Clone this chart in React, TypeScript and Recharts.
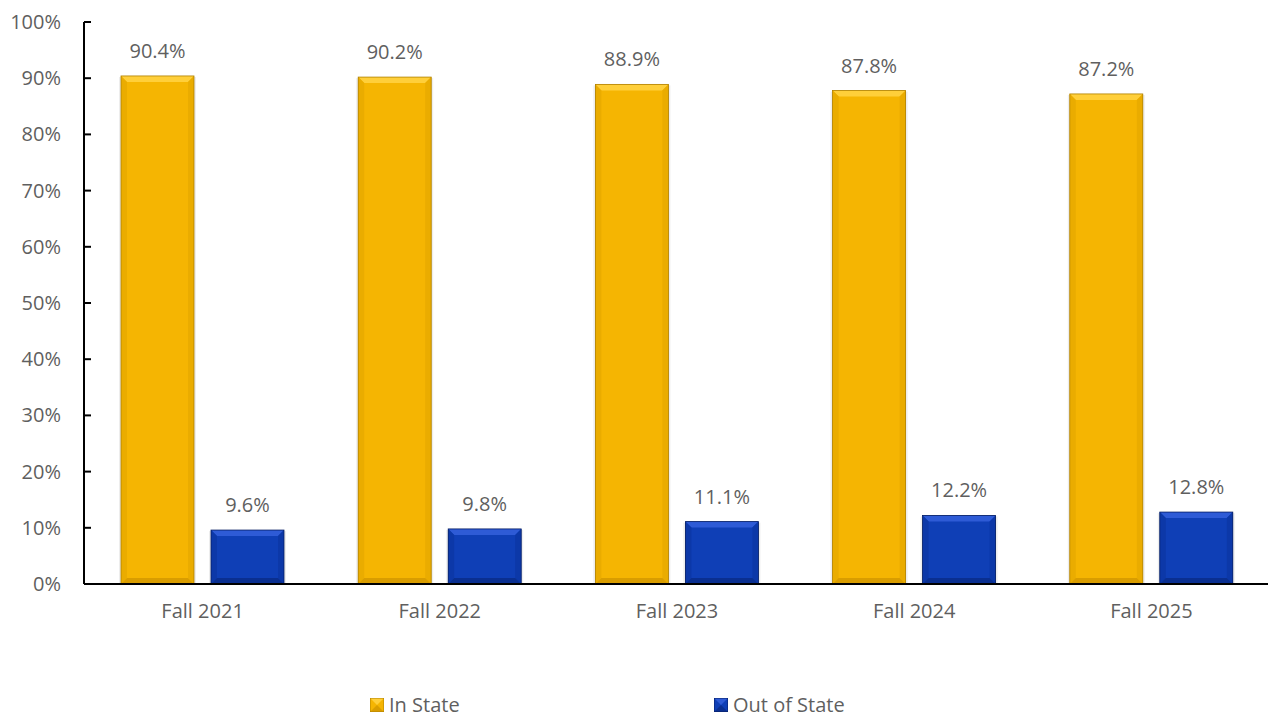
import { BarChart, Bar, XAxis, YAxis, LabelList } from "recharts";

const categories = ["Fall 2021", "Fall 2022", "Fall 2023", "Fall 2024", "Fall 2025"];
const inState = [90.4, 90.2, 88.9, 87.8, 87.2];
const outOfState = [9.6, 9.8, 11.1, 12.2, 12.8];
const yTicks = [0, 10, 20, 30, 40, 50, 60, 70, 80, 90, 100];

const seriesNames = ["In State", "Out of State"];

const palette = {
  gold: { base: "#F5B502", light: "#FFCF3A", side: "#EAAC00", dark: "#D99D00", edge: "#B08000" },
  blue: { base: "#0F3FB6", light: "#2E5BD6", side: "#0C38A8", dark: "#0A2F90", edge: "#061E63" },
};

const data = categories.map((name, i) => ({
  name,
  inState: inState[i],
  outOfState: outOfState[i],
}));

const FONT = "'Open Sans', 'Noto Sans', sans-serif";
const TEXT = "#5f5f5f";

function BevelBar(props: any) {
  const { x, y, width, height, tone } = props;
  const c = palette[tone as "gold" | "blue"];
  if (!height || height <= 0) return null;
  const b = Math.min(6, height / 3);
  return (
    <g>
      <rect x={x - 2} y={y + 1} width={width + 4} height={height} fill="#000" opacity={0.07} />
      <rect x={x} y={y} width={width} height={height} fill={c.base} />
      <polygon points={`${x},${y} ${x + width},${y} ${x + width - b},${y + b} ${x + b},${y + b}`} fill={c.light} />
      <polygon points={`${x},${y} ${x + b},${y + b} ${x + b},${y + height - b} ${x},${y + height}`} fill={c.side} />
      <polygon points={`${x + width},${y} ${x + width - b},${y + b} ${x + width - b},${y + height - b} ${x + width},${y + height}`} fill={c.side} />
      <polygon points={`${x},${y + height} ${x + b},${y + height - b} ${x + width - b},${y + height - b} ${x + width},${y + height}`} fill={c.dark} />
      <rect x={x} y={y} width={width} height={height} fill="none" stroke={c.edge} strokeWidth={0.8} />
    </g>
  );
}

function YTick(props: any) {
  const { x, y, payload } = props;
  return (
    <g>
      <line x1={x + 23} x2={x + 30} y1={y} y2={y} stroke="#000" strokeWidth={2} />
      <text x={x} y={y} dy={7} textAnchor="end" fill={TEXT} fontSize={20} fontFamily={FONT}>
        {payload.value}%
      </text>
    </g>
  );
}

function LegendIcon({ tone }: { tone: "gold" | "blue" }) {
  const c = palette[tone];
  return (
    <svg width={14} height={14} style={{ marginRight: 5 }}>
      <rect x={0} y={0} width={14} height={14} fill={c.base} />
      <polygon points="0,0 14,0 7,7" fill={c.light} />
      <polygon points="0,14 14,14 7,7" fill={c.dark} />
      <rect x={0} y={0} width={14} height={14} fill="none" stroke={c.edge} strokeWidth={1} />
    </svg>
  );
}

const legendStyle = {
  position: "absolute" as const,
  top: 693,
  display: "flex",
  alignItems: "center",
  fontFamily: FONT,
  fontSize: 20,
  lineHeight: "24px",
  color: TEXT,
};

export default function App() {
  return (
    <div style={{ position: "absolute", left: 0, top: 0, width: 1268, height: 717, overflow: "hidden", background: "#fff" }}>
      <BarChart
        width={1270}
        height={717}
        data={data}
        margin={{ top: 22, right: 0, bottom: 73, left: 0 }}
        barCategoryGap={37}
        barGap={17}
      >
        <XAxis
          dataKey="name"
          height={60}
          axisLine={{ stroke: "#000", strokeWidth: 2 }}
          tickLine={false}
          tickMargin={14}
          tick={{ fill: TEXT, fontSize: 20, fontFamily: FONT }}
        />
        <YAxis
          width={84}
          domain={[0, 100]}
          ticks={yTicks}
          interval={0}
          axisLine={{ stroke: "#000", strokeWidth: 2 }}
          tickLine={false}
          tickSize={0}
          tickMargin={23}
          tick={<YTick />}
        />
        <Bar dataKey="inState" name={seriesNames[0]} isAnimationActive={false} shape={(p: any) => <BevelBar {...p} tone="gold" />}>
          <LabelList
            dataKey="inState"
            position="top"
            offset={18}
            formatter={(v: any) => `${Number(v).toFixed(1)}%`}
            style={{ fill: TEXT, fontSize: 20, fontFamily: FONT }}
          />
        </Bar>
        <Bar dataKey="outOfState" name={seriesNames[1]} isAnimationActive={false} shape={(p: any) => <BevelBar {...p} tone="blue" />}>
          <LabelList
            dataKey="outOfState"
            position="top"
            offset={18}
            formatter={(v: any) => `${Number(v).toFixed(1)}%`}
            style={{ fill: TEXT, fontSize: 20, fontFamily: FONT }}
          />
        </Bar>
      </BarChart>
      <div style={{ ...legendStyle, left: 370 }}>
        <LegendIcon tone="gold" />
        <span>{seriesNames[0]}</span>
      </div>
      <div style={{ ...legendStyle, left: 714 }}>
        <LegendIcon tone="blue" />
        <span>{seriesNames[1]}</span>
      </div>
    </div>
  );
}
